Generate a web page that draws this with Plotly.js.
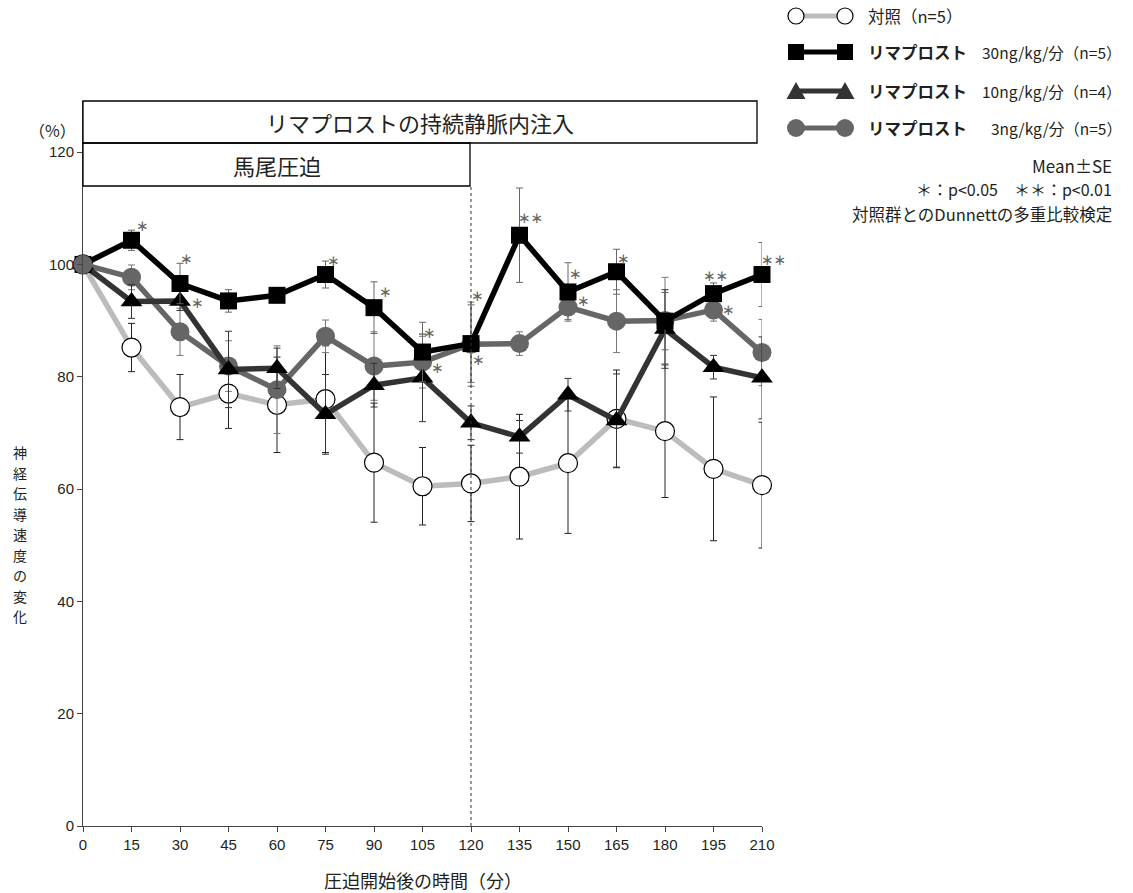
<!DOCTYPE html>
<html>
<head>
<meta charset="utf-8">
<script src="https://cdn.plot.ly/plotly-3.0.1.min.js"></script>
<style>
  html, body { margin: 0; padding: 0; background: #fff; }
  #chart { width: 1133px; height: 893px; }
</style>
</head>
<body>
<div id="chart"></div>
<script>
// Time after compression start (min)
const times = [0, 15, 30, 45, 60, 75, 90, 105, 120, 135, 150, 165, 180, 195, 210];
const xTickLabels = ['0', '15', '30', '45', '60', '75', '90', '105', '120', '135', '150', '165', '180', '195', '210'];
const yTickVals = [0, 20, 40, 60, 80, 100, 120];

// Change in nerve conduction velocity (%), mean and SE
const ctrl = [100, 85.2, 74.6, 77.0, 75.0, 76.0, 64.7, 60.5, 61.0, 62.2, 64.6, 72.5, 70.3, 63.6, 60.7];
const ctrlSE = [0, 4.3, 5.8, 6.2, 8.5, 9.5, 10.6, 6.9, 6.8, 11.1, 12.5, 8.7, 11.8, 12.8, 11.2];

const lim30 = [100, 104.3, 96.6, 93.5, 94.5, 98.2, 92.3, 84.4, 85.9, 105.2, 95.1, 98.7, 89.9, 94.8, 98.2];
const lim30SE = [0, 1.8, 3.6, 2.0, 0.6, 2.4, 4.6, 5.3, 6.9, 8.4, 5.2, 4.0, 5.1, 1.9, 5.7];

const lim10 = [100, 93.4, 93.5, 81.3, 81.5, 73.3, 78.5, 79.8, 71.8, 69.3, 76.8, 72.2, 88.5, 81.7, 79.8];
const lim10SE = [0, 3.0, 1.7, 6.8, 3.6, 7.1, 3.9, 7.8, 3.0, 2.9, 2.9, 8.3, 7.0, 2.1, 7.3];

const lim3 = [100, 97.7, 88.0, 81.9, 77.7, 87.2, 81.9, 82.6, 85.8, 85.9, 92.4, 89.9, 90.0, 91.9, 84.3];
const lim3SE = [0, 2.2, 4.2, 4.5, 7.8, 2.9, 6.1, 4.6, 7.5, 2.1, 2.2, 5.6, 7.7, 2.0, 5.9];

// Dunnett significance vs control
const sig30 = ['', '*', '*', '', '', '*', '*', '*', '*', '**', '*', '*', '', '**', '**'];
const sig10 = ['', '', '*', '', '', '', '', '', '', '', '', '', '', '', ''];
const sig3  = ['', '', '', '', '', '', '', '*', '*', '', '*', '', '', '*', ''];

// Label offsets (px) of the significance marks relative to their point
const starOffsets30 = {1: [11, -14], 2: [6, -25], 5: [8, -14], 6: [11, -16], 7: [7, -19], 8: [6, -48],
                       9: [11, -17], 10: [7, -18], 11: [7, -13], 13: [2, -18], 14: [11, -15]};
const starOffsets10 = {2: [17, 2]};
const starOffsets3 = {7: [15, 6], 8: [7, 16], 10: [15, -6], 13: [15, 0]};

// Plot area in page pixels
const W = 1133, H = 893;
const L = 83, R = 762, T = 101, B = 826;
const yMax = 129.1;
const xp = px => (px - L) / (R - L);
const yp = py => (B - py) / (B - T);

const jp = 'Noto Sans CJK JP, sans-serif';
const num = 'Liberation Sans, Arial, sans-serif';
const ink = '#231f20';

function series(y, se, name, lineColor, marker, errColor) {
  return {
    type: 'scatter', mode: 'lines+markers', name: name,
    x: times, y: y,
    line: {color: lineColor, width: 5.5},
    marker: marker,
    error_y: {type: 'data', array: se, visible: true, color: errColor, thickness: 1, width: 3.5},
    cliponaxis: false, showlegend: false, hoverinfo: 'x+y'
  };
}

const traces = [
  series(ctrl, ctrlSE, '対照', '#bcbcbc',
         {symbol: 'circle', size: 19, color: '#ffffff', line: {color: '#000', width: 1.2}}, '#222'),
  series(lim3, lim3SE, 'リマプロスト 3ng/kg/分', '#666666',
         {symbol: 'circle', size: 19, color: '#666666', line: {width: 0}}, '#777'),
  series(lim10, lim10SE, 'リマプロスト 10ng/kg/分', '#333333',
         {symbol: 'triangle-up', size: 19, color: '#000000', line: {width: 0}}, '#333'),
  series(lim30, lim30SE, 'リマプロスト 30ng/kg/分', '#000000',
         {symbol: 'square', size: 17, color: '#000000', line: {width: 0}}, '#666'),
  // baseline point of the 3ng group sits on top of the others
  {
    type: 'scatter', mode: 'markers', x: times.slice(0, 1), y: lim3.slice(0, 1),
    marker: {symbol: 'circle', size: 19, color: '#666666'},
    cliponaxis: false, showlegend: false, hoverinfo: 'skip'
  }
];

const annotations = [];
function addStars(sig, values, offsets) {
  sig.forEach((s, i) => {
    if (!s) return;
    const off = offsets[i] || [10, -14];
    annotations.push({
      x: times[i], y: values[i], xref: 'x', yref: 'y',
      text: s.replace(/\*/g, '∗'), showarrow: false,
      xshift: off[0], yshift: -off[1], xanchor: 'center', yanchor: 'middle',
      font: {family: 'DejaVu Sans, sans-serif', size: 15, color: '#666'}
    });
  });
}
addStars(sig30, lim30, starOffsets30);
addStars(sig10, lim10, starOffsets10);
addStars(sig3, lim3, starOffsets3);

function txt(text, px, py, size, opts) {
  annotations.push(Object.assign({
    x: xp(px), y: yp(py), xref: 'paper', yref: 'paper', text: text, showarrow: false,
    xanchor: 'left', yanchor: 'middle', font: {family: jp, size: size, color: ink}
  }, opts || {}));
}

// Treatment period boxes
txt('リマプロストの持続静脈内注入', (83 + 757) / 2, 122, 22, {xanchor: 'center'});
txt('馬尾圧迫', (83 + 470) / 2, 165, 22, {xanchor: 'center'});

// Axis titles
txt('（%）', 52, 130, 16, {xanchor: 'center'});
// vertical (stacked) y-axis title, one character per line
const yTitle = '神経伝導速度の変化';
Array.from(yTitle).forEach((ch, i) => txt(ch, 20, 452 + i * 20.5, 14, {xanchor: 'center', borderpad: 0}));
txt('圧迫開始後の時間（分）', (L + R) / 2, 880, 18, {xanchor: 'center'});

// Legend text
const legendRows = [
  {y: 16, label: '対照（n=5）', dose: ''},
  {y: 52, label: 'リマプロスト', dose: '30ng/kg/分（n=5）'},
  {y: 91, label: 'リマプロスト', dose: '10ng/kg/分（n=4）'},
  {y: 128, label: 'リマプロスト', dose: '3ng/kg/分（n=5）'}
];
legendRows.forEach((r, i) => {
  txt(i === 0 ? r.label : '<b>' + r.label + '</b>', 866, r.y, 16.5);
  if (r.dose) txt(r.dose, 1124, r.y, 15.5, {xanchor: 'right'});
});
// Statistics notes
txt('Mean±SE', 1113, 165, 17, {xanchor: 'right', borderpad: 0});
txt('＊：p<0.05　＊＊：p<0.01', 1113, 189, 16, {xanchor: 'right', borderpad: 0});
txt('対照群とのDunnettの多重比較検定', 1113, 214, 16.5, {xanchor: 'right', borderpad: 0});

// Shapes: period boxes, end-of-compression line, legend symbols
const shapes = [
  {type: 'rect', xref: 'paper', yref: 'paper', x0: xp(83), x1: xp(757), y0: yp(143), y1: yp(101),
   line: {color: '#000', width: 1.3}, fillcolor: 'rgba(0,0,0,0)'},
  {type: 'rect', xref: 'paper', yref: 'paper', x0: xp(83), x1: xp(470), y0: yp(186), y1: yp(143),
   line: {color: '#000', width: 1.3}, fillcolor: 'rgba(0,0,0,0)'},
  {type: 'line', xref: 'x', yref: 'paper', x0: 120, x1: 120, y0: 0, y1: yp(186),
   line: {color: '#333', width: 1, dash: 'dot'}}
];

function legLine(py, color) {
  shapes.push({type: 'line', xref: 'paper', yref: 'paper', x0: xp(796), x1: xp(845), y0: yp(py), y1: yp(py),
               line: {color: color, width: 5}});
}
function legCircle(cx, py, r, fill, stroke) {
  shapes.push({type: 'circle', xref: 'paper', yref: 'paper', x0: xp(cx - r), x1: xp(cx + r), y0: yp(py + r), y1: yp(py - r),
               fillcolor: fill, line: {color: stroke, width: stroke === fill ? 0 : 1.2}});
}
function legSquare(cx, py, s) {
  shapes.push({type: 'rect', xref: 'paper', yref: 'paper', x0: xp(cx - s / 2), x1: xp(cx + s / 2), y0: yp(py + s / 2), y1: yp(py - s / 2),
               fillcolor: '#000', line: {width: 0}});
}
function legTriangle(cx, py) {
  const p = (x, y) => xp(x).toFixed(5) + ',' + yp(y).toFixed(5);
  shapes.push({type: 'path', xref: 'paper', yref: 'paper',
               path: 'M' + p(cx - 9.5, py + 8) + ' L' + p(cx + 9.5, py + 8) + ' L' + p(cx, py - 9) + ' Z',
               fillcolor: '#333', line: {width: 0}});
}
legLine(16, '#bcbcbc'); legCircle(796, 16, 8, '#fff', '#000'); legCircle(845, 16, 8, '#fff', '#000');
legLine(52, '#000'); legSquare(796, 52, 16); legSquare(845, 52, 16);
legLine(91, '#333'); legTriangle(796, 91); legTriangle(845, 91);
legLine(128, '#666'); legCircle(796, 128, 9, '#666', '#666'); legCircle(845, 128, 9, '#666', '#666');

const layout = {
  width: W, height: H,
  margin: {l: L, r: W - R, t: T, b: H - B, pad: 0},
  paper_bgcolor: '#fff', plot_bgcolor: '#fff',
  showlegend: false,
  font: {family: num, size: 15, color: ink},
  xaxis: {
    range: [0, 210], tickvals: times, ticktext: xTickLabels,
    showgrid: false, zeroline: false, showline: true, linecolor: '#444', linewidth: 1,
    ticks: 'outside', ticklen: 5, tickcolor: '#444', tickwidth: 1,
    tickfont: {family: num, size: 15, color: ink}, fixedrange: true
  },
  yaxis: {
    range: [0, yMax], tickvals: yTickVals,
    showgrid: false, zeroline: false, showline: true, linecolor: '#444', linewidth: 1,
    ticks: 'outside', ticklen: 5, tickcolor: '#444', tickwidth: 1,
    tickfont: {family: num, size: 15, color: ink}, fixedrange: true
  },
  shapes: shapes,
  annotations: annotations
};

Plotly.newPlot('chart', traces, layout, {displayModeBar: false, staticPlot: true});
</script>
</body>
</html>
